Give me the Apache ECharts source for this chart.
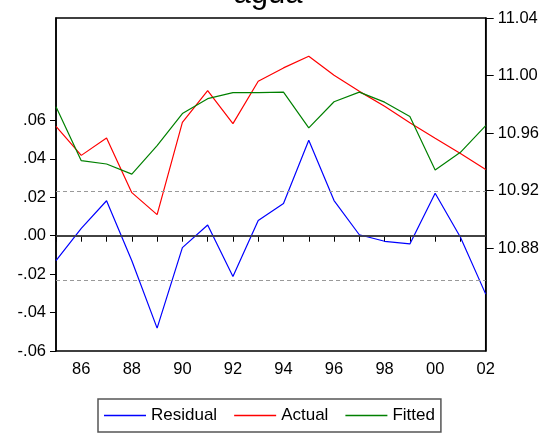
<!DOCTYPE html>
<html>
<head>
<meta charset="utf-8">
<script src="https://cdn.jsdelivr.net/npm/echarts@6/dist/echarts.min.js"></script>
<style>
  html, body { margin: 0; padding: 0; background: #fff; }
  #chart { width: 542px; height: 436px; }
</style>
</head>
<body>
<div id="chart"></div>
<script>
// Annual observations 1985-2002
const years = [1985, 1986, 1987, 1988, 1989, 1990, 1991, 1992, 1993,
               1994, 1995, 1996, 1997, 1998, 1999, 2000, 2001, 2002];
const residual = [-0.0130, 0.0038, 0.0182, -0.0130, -0.0481, -0.0062, 0.0056, -0.0212, 0.0079,
                  0.0168, 0.0497, 0.0183, 0.0005, -0.0029, -0.0043, 0.0221, -0.0008, -0.0304];
const actual = [10.9647, 10.9445, 10.9566, 10.9186, 10.9033, 10.9675, 10.9895, 10.9666, 10.9960,
                11.0053, 11.0134, 11.0002, 10.9890, 10.9786, 10.9672, 10.9564, 10.9458, 10.9347];
const fitted = [10.9783, 10.9408, 10.9385, 10.9315, 10.9513, 10.9736, 10.9839, 10.9881, 10.9881,
                10.9885, 10.9636, 10.9818, 10.9885, 10.9815, 10.9715, 10.9343, 10.9466, 10.9652];
const residualTicks = [-0.06, -0.04, -0.02, 0.00, 0.02, 0.04, 0.06];
const levelTicks = [10.88, 10.92, 10.96, 11.00, 11.04];
const yearLabels = [1986, 1988, 1990, 1992, 1994, 1996, 1998, 2000, 2002];
const stdError = 0.0232;

const FONT = 'Liberation Sans, Arial, sans-serif';
const pairs = arr => years.map((y, i) => [y, arr[i]]);
const fmtResid = v => {
  const s = Math.abs(v).toFixed(2).replace(/^0/, '');
  return (v < -1e-9 ? '-' : '') + s;
};

const chart = echarts.init(document.getElementById('chart'), null, { renderer: 'canvas' });
chart.setOption({
  animation: false,
  backgroundColor: '#fff',
  graphic: [{
    type: 'text',
    x: 268, y: -6,
    style: { text: 'agua', font: '31px ' + FONT, fill: '#000', textAlign: 'center', textVerticalAlign: 'middle' }
  }],
  grid: { left: 56, right: 56, top: 18, bottom: 85, show: true, borderColor: '#000', borderWidth: 1.5, backgroundColor: 'transparent' },
  legend: {
    left: 98, top: 399,
    padding: [8, 6, 8, 6],
    borderColor: '#555', borderWidth: 1.5,
    itemWidth: 42, itemHeight: 1.5, itemGap: 17,
    icon: 'rect',
    textStyle: { fontFamily: FONT, fontSize: 17, color: '#000' },
    data: ['Residual', 'Actual', 'Fitted']
  },
  xAxis: {
    type: 'value', min: 1985, max: 2002, interval: 1,
    axisLine: { lineStyle: { color: '#000', width: 1.5 } },
    axisTick: { length: 6, lineStyle: { color: '#000' } },
    axisLabel: {
      customValues: yearLabels,
      formatter: v => String(v % 100).padStart(2, '0'),
      fontFamily: FONT, fontSize: 16.5, color: '#000', margin: 10
    },
    splitLine: { show: false }
  },
  yAxis: [{
    type: 'value', position: 'left', min: -0.06, max: 0.1133,
    axisLine: { show: true, lineStyle: { color: '#000', width: 1.5 } },
    axisTick: { show: true, length: 6, customValues: residualTicks, lineStyle: { color: '#000' } },
    axisLabel: { customValues: residualTicks, formatter: fmtResid, fontFamily: FONT, fontSize: 16.5, color: '#000', margin: 10 },
    splitLine: { show: false }
  }, {
    type: 'value', position: 'right', min: 10.8085, max: 11.04,
    axisLine: { show: true, lineStyle: { color: '#000', width: 1.5 } },
    axisTick: { show: true, length: 8, customValues: levelTicks, lineStyle: { color: '#000' } },
    axisLabel: { customValues: levelTicks, formatter: v => v.toFixed(2), fontFamily: FONT, fontSize: 16.5, color: '#000', margin: 12 },
    splitLine: { show: false }
  }],
  series: [{
    name: 'Residual', type: 'line', yAxisIndex: 0, data: pairs(residual),
    symbol: 'none', color: '#0000ff', lineStyle: { width: 1.2 },
    markLine: {
      silent: true, symbol: 'none', precision: 4, label: { show: false },
      data: [
        { yAxis: 0, lineStyle: { type: 'solid', color: '#444', width: 1.5 } },
        { yAxis: stdError, lineStyle: { type: [4, 3], color: '#999', width: 1 } },
        { yAxis: -stdError, lineStyle: { type: [4, 3], color: '#999', width: 1 } }
      ]
    }
  }, {
    name: 'Actual', type: 'line', yAxisIndex: 1, data: pairs(actual),
    symbol: 'none', color: '#ff0000', lineStyle: { width: 1.2 }
  }, {
    name: 'Fitted', type: 'line', yAxisIndex: 1, data: pairs(fitted),
    symbol: 'none', color: '#008000', lineStyle: { width: 1.2 }
  }]
});
</script>
</body>
</html>
